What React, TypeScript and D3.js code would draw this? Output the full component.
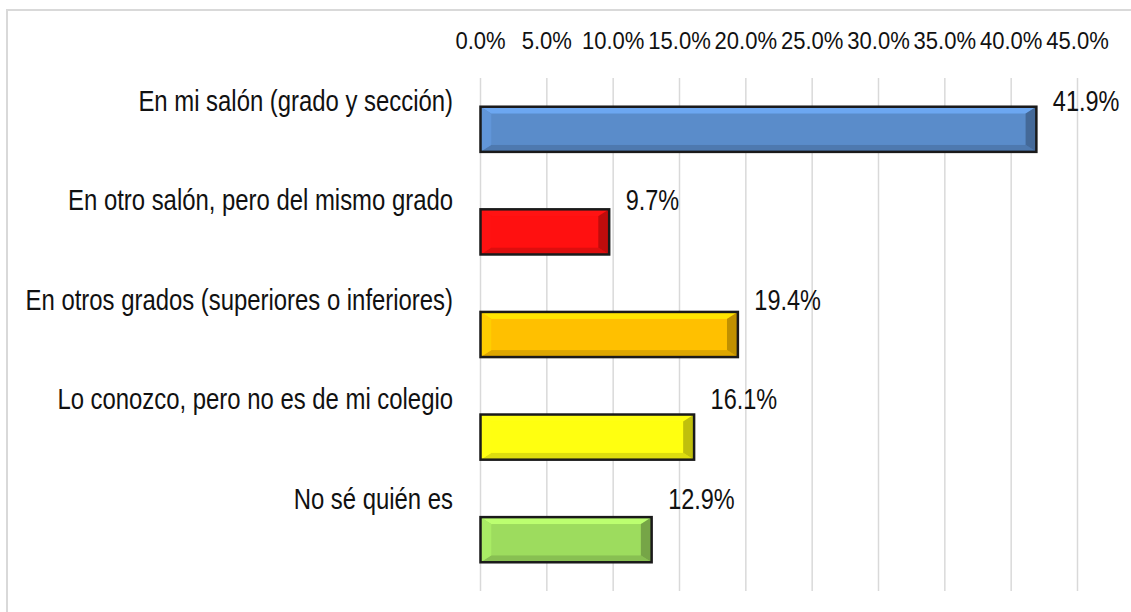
import * as d3 from "d3";

const categories = [
  "En mi salón (grado y sección)",
  "En otro salón, pero del mismo grado",
  "En otros grados (superiores o inferiores)",
  "Lo conozco, pero no es de mi colegio",
  "No sé quién es",
];
const values = [41.9, 9.7, 19.4, 16.1, 12.9];
const barColors = ["#5a8cca", "#ff1010", "#ffc000", "#ffff10", "#9ddc5e"];
const tickValues = [0, 5, 10, 15, 20, 25, 30, 35, 40, 45];

const W = 1131;
const H = 612;
const plot = { left: 480.5, right: 1077.5, top: 78, bottom: 591 };

const x = d3.scaleLinear().domain([0, 45]).range([plot.left, plot.right]);
const y = d3
  .scaleBand<string>()
  .domain(categories)
  .range([plot.top, plot.bottom])
  .paddingInner(0.56)
  .paddingOuter(0.28);
// the text rows sit on their own, slightly tighter, spacing
const labelY = d3.scalePoint<string>().domain(categories).range([110.5, 508.5]);

const fmt = (v: number) => v.toFixed(1) + "%";
const narrow = 0.81;

const Bar = ({ x0, x1, y0, y1, color }: { x0: number; x1: number; y0: number; y1: number; color: string }) => {
  const bx = Math.min(11, (x1 - x0) / 2);
  const by = 7;
  const c = d3.color(color)!;
  const pts = (a: number[][]) => a.map((p) => p.join(",")).join(" ");
  const ix0 = x0 + bx, ix1 = x1 - bx, iy0 = y0 + by, iy1 = y1 - by;
  return (
    <g>
      <rect x={x0} y={y0} width={x1 - x0} height={y1 - y0} fill={color} />
      <polygon points={pts([[x0, y0], [x1, y0], [ix1, iy0], [ix0, iy0]])} fill={c.brighter(0.5).toString()} />
      <polygon points={pts([[x0, y1], [x1, y1], [ix1, iy1], [ix0, iy1]])} fill={c.darker(0.4).toString()} />
      <polygon points={pts([[x0, y0], [ix0, iy0], [ix0, iy1], [x0, y1]])} fill={c.brighter(0.2).toString()} />
      <polygon points={pts([[x1, y0], [ix1, iy0], [ix1, iy1], [x1, y1]])} fill={c.darker(0.8).toString()} />
      <rect x={ix0} y={iy0} width={Math.max(0, ix1 - ix0)} height={iy1 - iy0} fill={color} />
      <rect x={x0} y={y0} width={x1 - x0} height={y1 - y0} fill="none" stroke="#1a1a1a" strokeWidth={2.5} />
    </g>
  );
};

export default function App() {
  return (
    <svg
      width={W}
      height={H}
      style={{ position: "absolute", left: 0, top: 0, display: "block", background: "#fff" }}
      fontFamily="'Liberation Sans', Arial, sans-serif"
    >
      <rect x={7} y={10} width={W + 20} height={H + 20} fill="#fff" stroke="#d9d9d9" strokeWidth={2} />

      {tickValues.map((t) => (
        <line key={"g" + t} x1={x(t)} x2={x(t)} y1={plot.top} y2={plot.bottom} stroke="#d9d9d9" strokeWidth={1.5} />
      ))}

      {tickValues.map((t) => (
        <text
          key={"t" + t}
          transform={`translate(${x(t)},49) scale(0.9,1)`}
          textAnchor="middle"
          fontSize={24.5}
          fill="#111"
        >
          {fmt(t)}
        </text>
      ))}

      {categories.map((c, i) => (
        <Bar key={c} x0={x(0)} x1={x(values[i])} y0={y(c)!} y1={y(c)! + y.bandwidth()} color={barColors[i]} />
      ))}

      {categories.map((c) => (
        <text
          key={"l" + c}
          transform={`translate(453,${labelY(c)}) scale(${narrow},1)`}
          textAnchor="end"
          fontSize={29.5}
          fill="#111"
        >
          {c}
        </text>
      ))}

      {categories.map((c, i) => (
        <text
          key={"v" + c}
          transform={`translate(${x(values[i]) + 16.5},${labelY(c)}) scale(${narrow},1)`}
          fontSize={29}
          fill="#111"
        >
          {fmt(values[i])}
        </text>
      ))}
    </svg>
  );
}
